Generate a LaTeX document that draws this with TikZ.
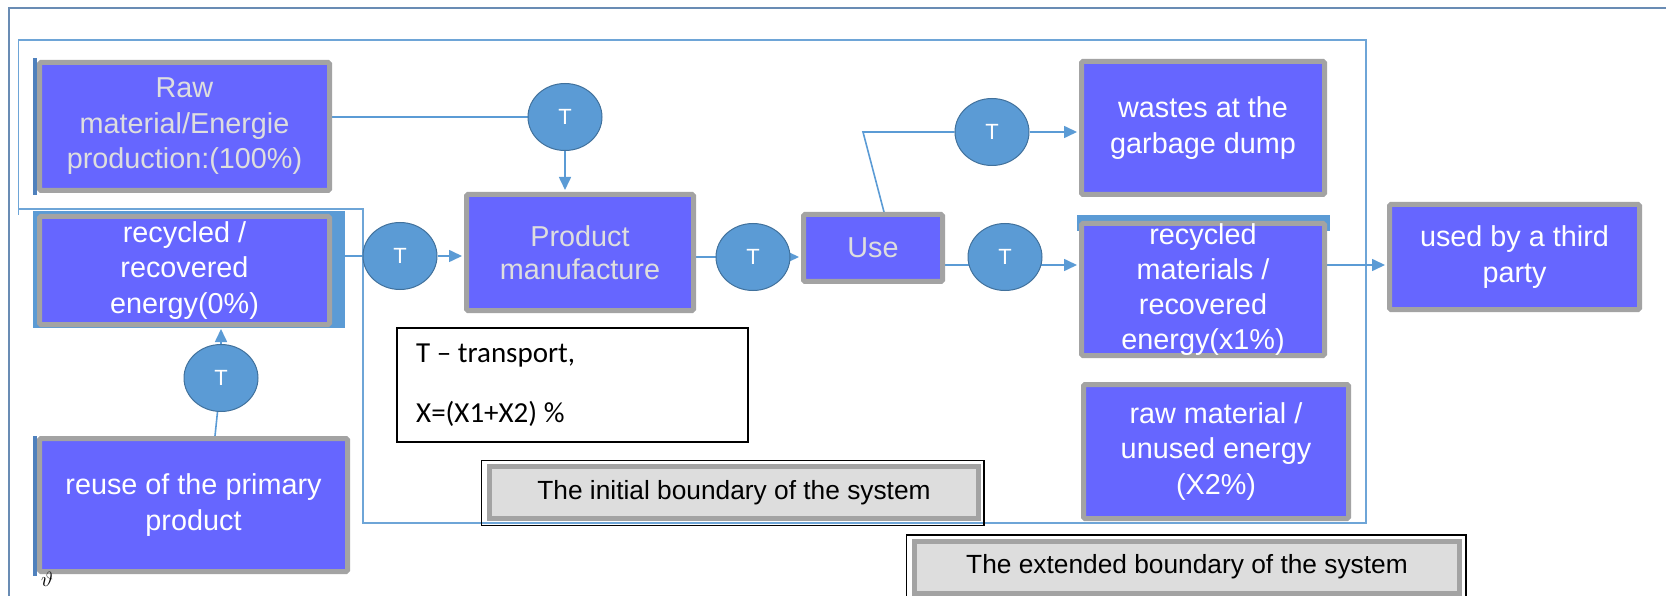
\documentclass[tikz,border=0pt]{standalone}
\usepackage{fontspec}
\setmainfont{Liberation Sans}
\newfontfamily\legendfont{Carlito}
\usetikzlibrary{arrows.meta,shapes.geometric,backgrounds}

\definecolor{boxblue}{RGB}{102,102,255}
\definecolor{boxgray}{RGB}{163,163,163}
\definecolor{tblue}{RGB}{91,155,213}
\definecolor{tedge}{RGB}{65,113,156}
\definecolor{linkblue}{RGB}{91,155,213}
\definecolor{framelb}{RGB}{110,165,215}
\definecolor{frameout}{RGB}{105,140,180}
\definecolor{lgray}{RGB}{221,221,221}
\definecolor{softwhite}{RGB}{222,222,222}
\definecolor{stripblue}{RGB}{79,129,189}

\begin{document}
\begin{tikzpicture}[x=1pt,y=-1pt,
  proc/.style={draw=boxgray, fill=boxblue, line width=5pt, rounded corners=1.5pt,
    inner sep=0pt, align=center, text=white, font=\fontsize{28.8}{35.5}\selectfont},
  tnode/.style={ellipse, draw=tedge, line width=1pt, fill=tblue,
    minimum width=74pt, minimum height=67pt, inner sep=0pt, text=white,
    font=\fontsize{22}{22}\selectfont},
  lbox/.style={draw=boxgray, fill=lgray, line width=5pt, inner sep=0pt,
    text=black, font=\fontsize{26.3}{26.3}\selectfont},
  legtext/.style={anchor=base west, inner sep=0pt, font=\legendfont\fontsize{29}{29}\selectfont},
  conn/.style={draw=linkblue, line width=1.6pt},
  arr/.style={conn, -{Triangle[length=13pt,width=12pt]}, shorten >=2pt},
  blk/.style={draw=black, line width=1.3pt},
]
\useasboundingbox (0,0) rectangle (1666,596);

% process boxes
\node[proc, minimum width=290pt, minimum height=128pt, text=softwhite] (raw) at (184.5,126.5)
  {Raw\\material/Energie\\production:(100\%)};
\node[proc, minimum width=290pt, minimum height=108pt] (rec) at (184.5,270.5)
  {recycled /\\recovered\\energy(0\%)};
\node[proc, minimum width=308pt, minimum height=133pt] (reuse) at (193.5,505)
  {reuse of the primary\\product};
\node[proc, minimum width=227pt, minimum height=116pt, text=softwhite,
  font=\fontsize{28.8}{33}\selectfont] (prod) at (580,252.5) {Product\\manufacture};
\node[proc, minimum width=139pt, minimum height=67pt, text=softwhite] (use) at (873,248) {Use};
\node[proc, minimum width=243pt, minimum height=133pt] (waste) at (1203,128)
  {wastes at the\\garbage dump};
\node[proc, minimum width=243pt, minimum height=132pt, font=\fontsize{28.8}{35}\selectfont]
  (recm) at (1203,289.5) {recycled\\materials /\\recovered\\energy(x1\%)};
\node[proc, minimum width=250pt, minimum height=105pt] (third) at (1514.5,257)
  {used by a third\\party};
\node[proc, minimum width=265pt, minimum height=134pt] (unused) at (1216,451.5)
  {raw material /\\unused energy\\(X2\%)};

% transport nodes
\node[tnode] (Ta) at (565,117) {T};
\node[tnode] (Tb) at (400,256) {T};
\node[tnode] (Tc) at (753,257) {T};
\node[tnode] (Td) at (992,132) {T};
\node[tnode] (Te) at (1005,257) {T};
\node[tnode] (Tf) at (221,378) {T};

% legend
\node[draw=black, line width=1.5pt, fill=white, minimum width=351pt, minimum height=114pt]
  (legend) at (572.5,385) {};
\node[legtext] (legT) at (416,362) {T – transport,};
\node[legtext] (legX) at (416,422) {X=(X1+X2) \%};

% boundary captions
\node[lbox, minimum width=489pt, minimum height=52pt] (ib) at (734,492.5)
  {The initial boundary of the system};
\node[lbox, minimum width=545pt, minimum height=52pt] (eb) at (1187,567)
  {The extended boundary of the system};

\node[inner sep=0pt, font=\fontsize{20}{20}\selectfont] (mark) at (47,579) {$\vartheta$};

\begin{pgfonlayer}{background}
  % frames
  \draw[frameout, line width=2pt] (1670,8.5) -- (8.5,8.5) -- (8.5,600);
  \draw[framelb, line width=1.5pt] (18.5,215) -- (18.5,40) -- (1366,40) -- (1366,523)
    -- (363,523) -- (363,209) -- (18.5,209);

  % connectors
  \draw[conn] (raw.east|-Ta) -- (Ta);
  \draw[arr] (Ta) -- (Ta|-prod.north);
  \draw[conn] (rec.east|-Tb) -- (Tb);
  \draw[arr] (Tb) -- (prod.west|-Tb);
  \draw[conn] (prod.east|-Tc) -- (Tc);
  \draw[arr] (Tc) -- (use.west|-Tc);
  \coordinate (bend) at (863,132);
  \draw[conn] ([xshift=11pt]use.north) -- (bend) -- (Td);
  \draw[arr] (Td) -- (waste.west|-Td);
  \coordinate (te8) at ([yshift=-8pt]Te.center);
  \draw[conn] (use.east|-te8) -- (te8);
  \draw[arr] (te8) -- (recm.west|-te8);
  \draw[arr] (recm.east|-te8) -- (third.west|-te8);
  \draw[conn] ([xshift=21.5pt]reuse.north) -- (Tf);
  \draw[arr] (Tf) -- (Tf|-rec.south);

  % blue edges behind some boxes
  \fill[tblue] ([shift={(-4pt,2.5pt)}]rec.north west) rectangle ([shift={(12.5pt,-1pt)}]rec.south east);
  \fill[tblue] ([shift={(-2.5pt,6pt)}]recm.north west) rectangle ([shift={(2.5pt,-10pt)}]recm.north east);
  \fill[stripblue] ([shift={(-4pt,2pt)}]raw.north west) rectangle ([shift={(0pt,-2pt)}]raw.south west);
  \fill[stripblue] ([shift={(-4pt,0pt)}]reuse.north west) rectangle ([shift={(0pt,-2pt)}]reuse.south west);

  % black outlines of the captions
  \draw[blk] ([shift={(-5.5pt,3.5pt)}]ib.north west) rectangle ([shift={(3pt,-4.5pt)}]ib.south east);
  \draw[blk] ([shift={(-5.5pt,3.5pt)}]eb.north west) rectangle ([shift={(4pt,-6pt)}]eb.south east);
\end{pgfonlayer}
\end{tikzpicture}
\end{document}
